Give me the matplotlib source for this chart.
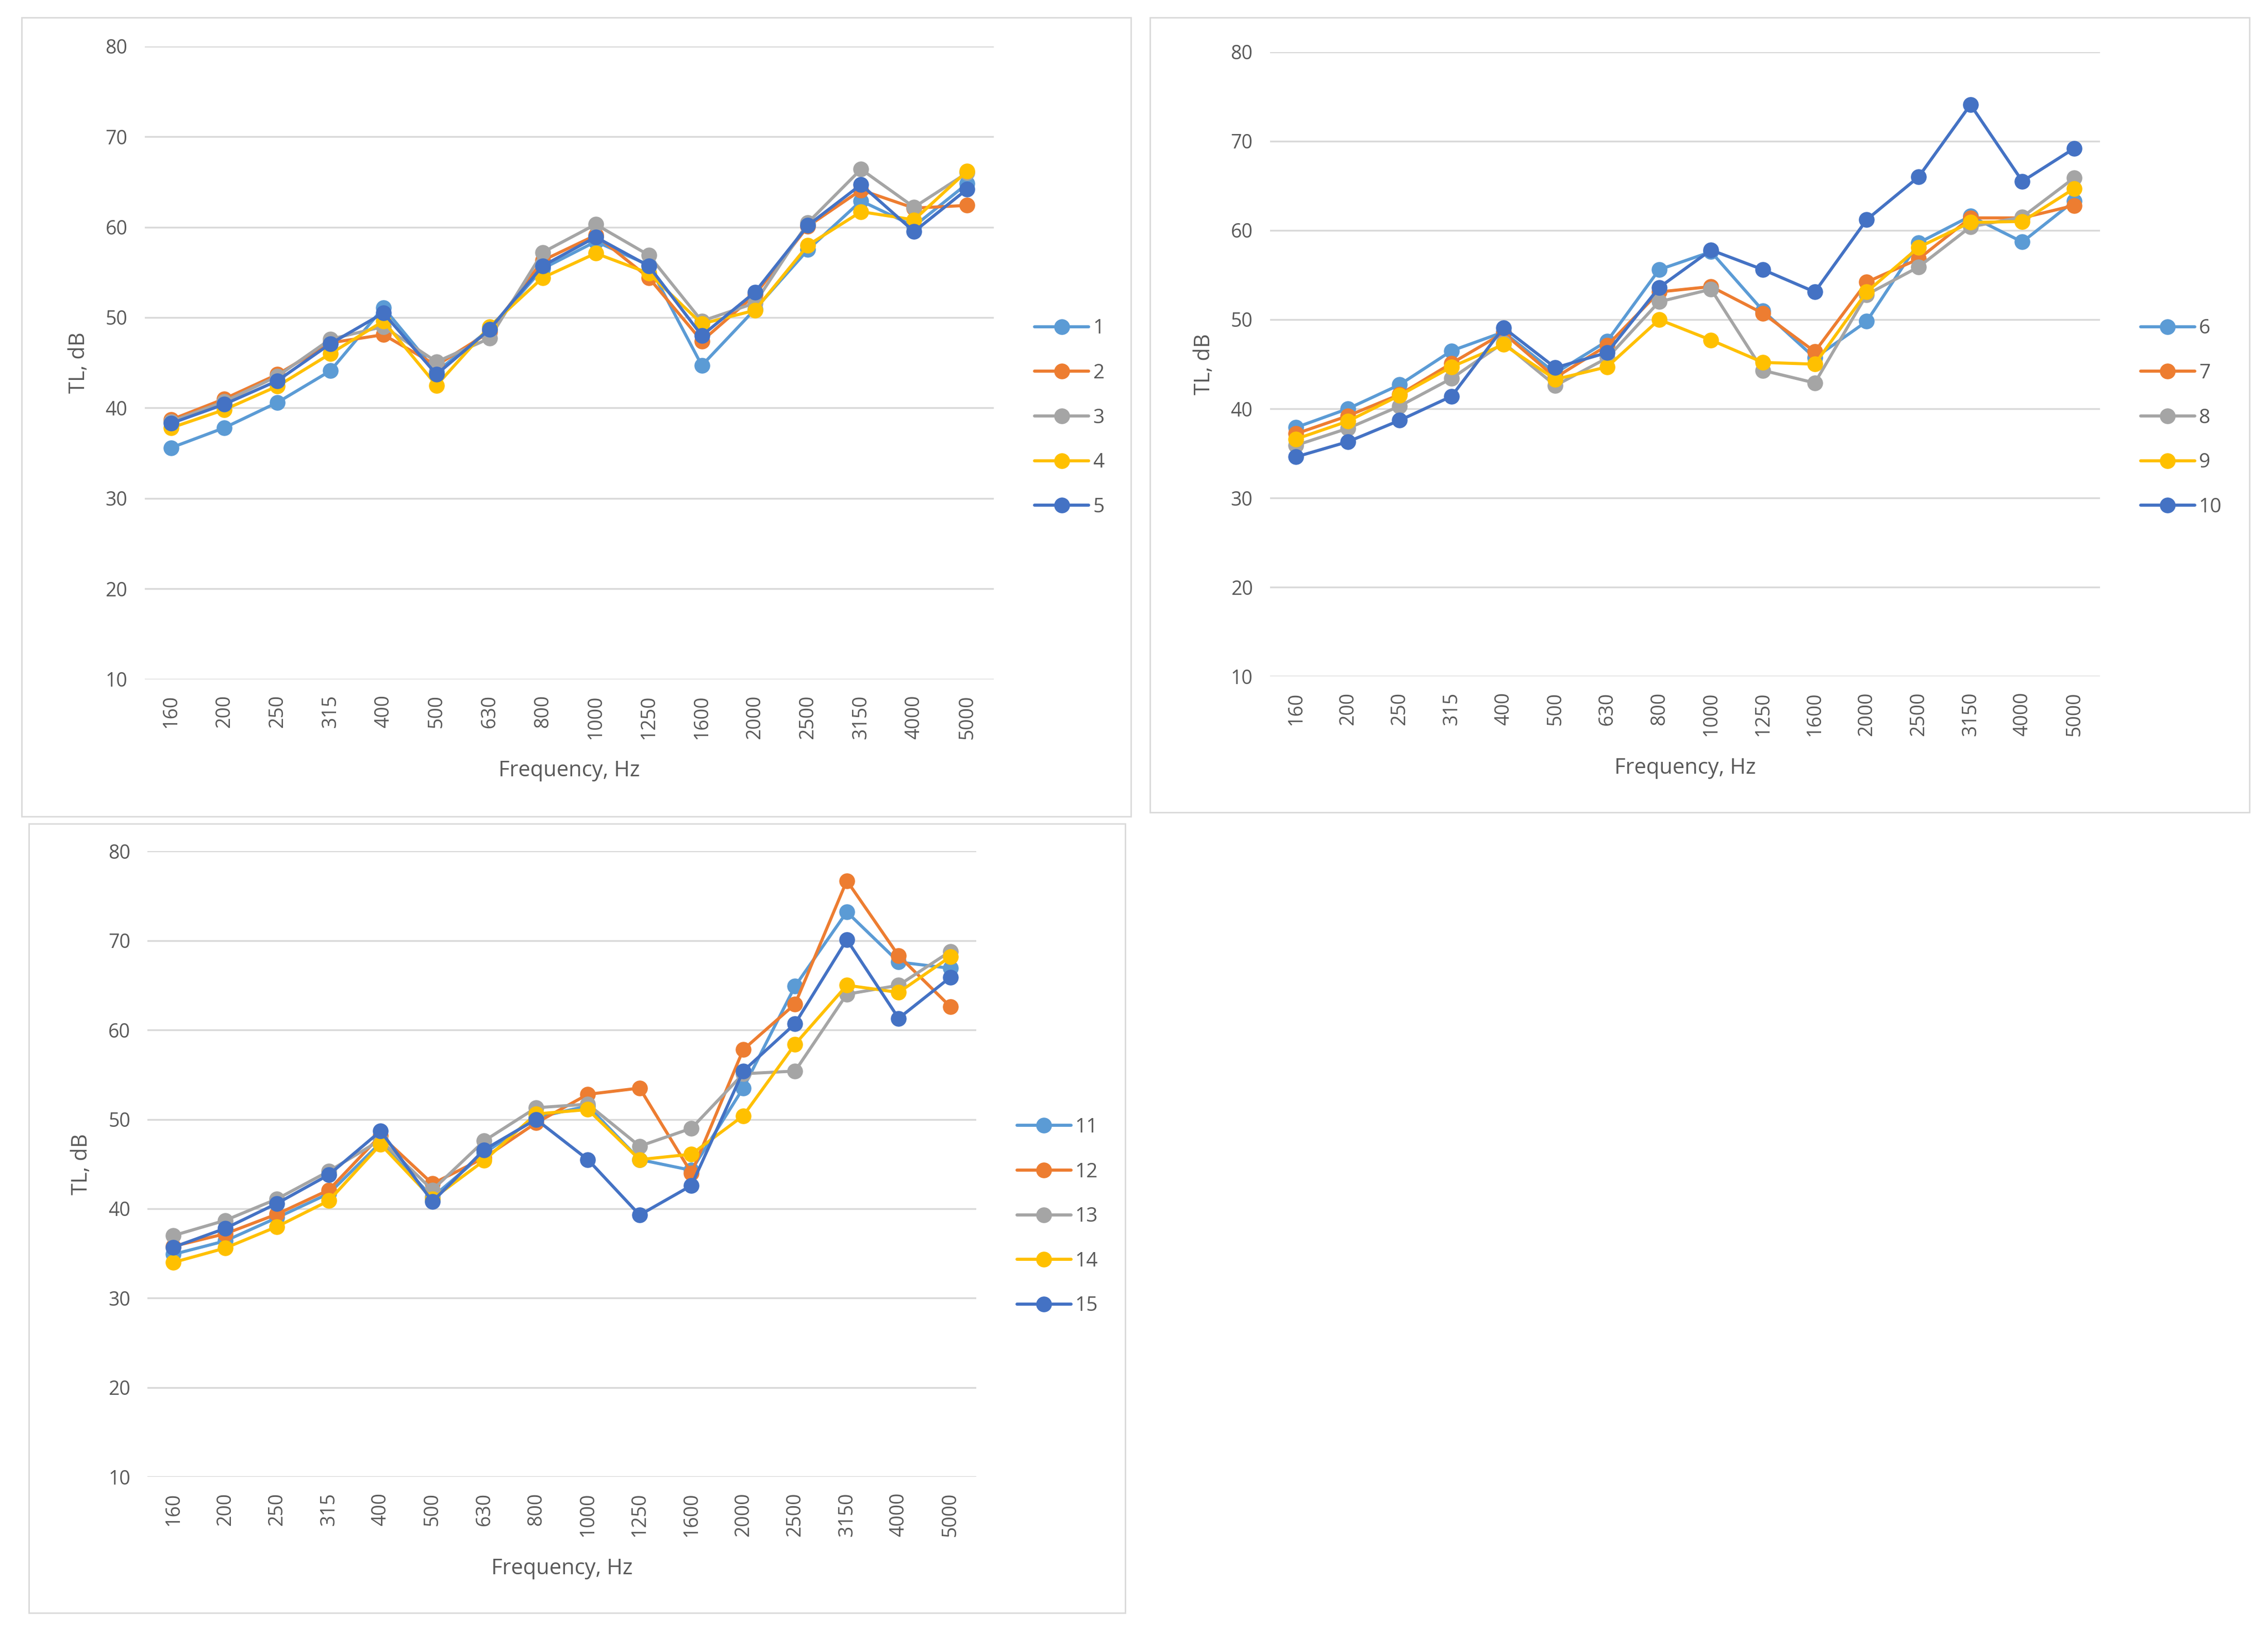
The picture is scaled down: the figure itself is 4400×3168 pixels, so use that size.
import matplotlib
matplotlib.use("Agg")
import matplotlib.pyplot as plt
from matplotlib.patches import Rectangle

plt.rcParams['font.family'] = ['Open Sans', 'DejaVu Sans']

freqs = ['160', '200', '250', '315', '400', '500', '630', '800', '1000',
         '1250', '1600', '2000', '2500', '3150', '4000', '5000']

# panel 1
s1 = [35.6, 37.8, 40.6, 44.1, 51.1, 44.0, 48.7, 55.4, 58.4, 55.8, 44.7, 50.9, 57.5, 62.9, 60.1, 64.8]
s2 = [38.7, 41.0, 43.7, 47.2, 48.1, 44.7, 48.4, 56.3, 59.1, 54.4, 47.4, 52.5, 60.1, 64.1, 62.1, 62.4]
s3 = [38.5, 40.7, 43.5, 47.6, 49.0, 45.1, 47.7, 57.2, 60.3, 56.9, 49.6, 51.6, 60.5, 66.4, 62.2, 66.0]
s4 = [37.8, 39.8, 42.4, 46.0, 49.6, 42.5, 49.0, 54.4, 57.1, 54.9, 49.3, 50.8, 58.0, 61.7, 60.8, 66.2]
s5 = [38.3, 40.4, 43.0, 47.1, 50.5, 43.7, 48.7, 55.7, 58.9, 55.7, 48.0, 52.8, 60.2, 64.7, 59.5, 64.2]

# panel 2
s6 = [37.9, 40.0, 42.7, 46.5, 48.6, 44.0, 47.6, 55.6, 57.6, 51.0, 45.7, 49.8, 58.6, 61.6, 58.7, 63.3]
s7 = [37.2, 39.2, 41.6, 45.1, 48.5, 43.5, 47.1, 53.1, 53.7, 50.7, 46.4, 54.2, 56.8, 61.4, 61.4, 62.8]
s8 = [35.9, 37.8, 40.3, 43.4, 47.4, 42.6, 45.7, 52.0, 53.4, 44.3, 42.9, 52.8, 55.9, 60.4, 61.5, 65.9]
s9 = [36.6, 38.6, 41.5, 44.7, 47.2, 43.3, 44.7, 50.0, 47.7, 45.2, 45.0, 53.1, 58.1, 60.9, 61.0, 64.7]
s10 = [34.6, 36.3, 38.7, 41.4, 49.1, 44.6, 46.3, 53.6, 57.8, 55.6, 53.1, 61.2, 66.0, 74.1, 65.5, 69.2]

# panel 3
s11 = [34.9, 36.4, 39.0, 41.7, 47.4, 41.3, 46.2, 50.2, 51.5, 45.5, 44.3, 53.5, 64.9, 73.2, 67.6, 66.9]
s12 = [35.8, 37.2, 39.4, 42.1, 48.2, 42.8, 45.7, 49.6, 52.8, 53.5, 44.0, 57.8, 62.9, 76.7, 68.3, 62.6]
s13 = [37.0, 38.7, 41.1, 44.2, 47.7, 42.1, 47.6, 51.3, 51.7, 47.0, 49.0, 55.1, 55.4, 64.0, 65.0, 68.8]
s14 = [34.0, 35.6, 38.0, 40.9, 47.2, 41.1, 45.4, 50.6, 51.1, 45.5, 46.1, 50.4, 58.4, 65.0, 64.2, 68.2]
s15 = [35.7, 37.8, 40.6, 43.8, 48.7, 40.8, 46.6, 50.0, 45.5, 39.3, 42.6, 55.4, 60.7, 70.1, 61.3, 65.9]

colors = ['#5B9BD5', '#ED7D31', '#A5A5A5', '#FFC000', '#4472C4']
txt = '#595959'
grid = '#D9D9D9'

W, H = 1568.0, 1130.0


def panel(fig, frame, area, series, labels, leg_y):
    # frame and area in reference pixel coords (x0, y0, x1, y1)
    fx0, fy0, fx1, fy1 = frame
    fig.add_artist(Rectangle((fx0 / W, 1 - fy1 / H), (fx1 - fx0) / W, (fy1 - fy0) / H,
                             transform=fig.transFigure, fill=False, edgecolor=grid, lw=2))
    x0, y0, x1, y1 = area
    ax = fig.add_axes([x0 / W, 1 - y1 / H, (x1 - x0) / W, (y1 - y0) / H])
    x = range(len(freqs))
    for s, lab, c in zip(series, labels, colors):
        ax.plot(x, s, color=c, lw=4.3, marker='o', markersize=21, label=lab,
                solid_capstyle='round')
    ax.set_xlim(-0.5, len(freqs) - 0.5)
    ax.set_ylim(10, 80)
    ax.set_yticks(range(10, 81, 10))
    ax.set_xticks(list(x))
    ax.set_xticklabels(freqs, rotation=90)
    ax.yaxis.grid(True, color=grid, lw=2.5)
    ax.set_axisbelow(True)
    for sp in ax.spines.values():
        sp.set_visible(False)
    ax.tick_params(axis='both', length=0, labelsize=27, colors=txt)
    ax.tick_params(axis='y', pad=24)
    ax.tick_params(axis='x', pad=22)
    ax.set_xlabel('Frequency, Hz', fontsize=30, color=txt, labelpad=29)
    ax.set_ylabel('TL, dB', fontsize=30, color=txt, labelpad=22)
    ax.legend(loc='center left', bbox_to_anchor=(1.027, leg_y), frameon=False,
              fontsize=28, labelcolor=txt, handlelength=2.7, handletextpad=0.2,
              labelspacing=1.25, markerscale=1.0)
    return ax


fig = plt.figure(figsize=(44, 31.68), dpi=100)

panel(fig, (15, 12, 782, 565), (100, 32, 687, 470),
      [s1, s2, s3, s4, s5], ['1', '2', '3', '4', '5'], 0.413)
panel(fig, (795, 12, 1555, 562), (878, 36, 1452, 468),
      [s6, s7, s8, s9, s10], ['6', '7', '8', '9', '10'], 0.414)
panel(fig, (20, 570, 778, 1116), (102, 589, 675, 1022),
      [s11, s12, s13, s14, s15], ['11', '12', '13', '14', '15'], 0.416)

fig.savefig('out.png', dpi=100, facecolor='white')
